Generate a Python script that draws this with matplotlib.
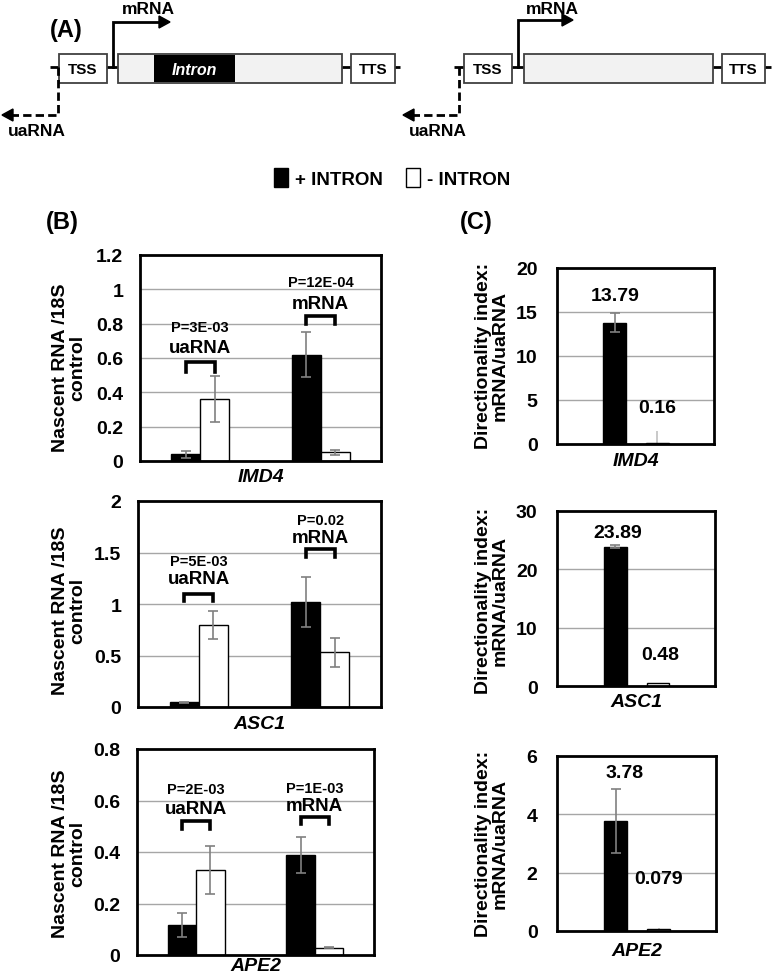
import matplotlib
matplotlib.use('Agg')
import matplotlib.pyplot as plt
from matplotlib.patches import Rectangle, Polygon, Patch
import numpy as np

plt.rcParams['font.family'] = ['Liberation Sans', 'DejaVu Sans']
plt.rcParams['font.weight'] = 'bold'

W, H = 774, 978

# ---------------- data ----------------
genes = ['IMD4', 'ASC1', 'APE2']
rna_types = ['uaRNA', 'mRNA']
legend_labels = ['+ INTRON', '- INTRON']

imd4_plus = [0.04, 0.62]
imd4_plus_err = [0.02, 0.13]
imd4_minus = [0.36, 0.05]
imd4_minus_err = [0.135, 0.015]

asc1_plus = [0.045, 1.02]
asc1_plus_err = [0.005, 0.245]
asc1_minus = [0.80, 0.53]
asc1_minus_err = [0.135, 0.14]

ape2_plus = [0.117, 0.39]
ape2_plus_err = [0.048, 0.07]
ape2_minus = [0.33, 0.029]
ape2_minus_err = [0.095, 0.003]

imd4_pvals = ['P=3E-03', 'P=12E-04']
asc1_pvals = ['P=5E-03', 'P=0.02']
ape2_pvals = ['P=2E-03', 'P=1E-03']

di_plus = [13.79, 23.89, 3.78]
di_plus_err = [1.1, 0.2, 1.1]
di_minus = [0.16, 0.48, 0.079]
di_minus_err = [1.35, 0.1, 0.01]

b_ylim = [1.2, 2.0, 0.8]
b_ystep = [0.2, 0.5, 0.2]
c_ylim = [20, 30, 6]
c_ystep = [5, 10, 2]

# ---------------- figure ----------------
fig = plt.figure(figsize=(W / 100, H / 100), dpi=100)
fig.patch.set_facecolor('white')


def px_axes(l, t, r, b):
    return fig.add_axes([l / W, 1 - b / H, (r - l) / W, (b - t) / H])


FS = 14
ERRC = '#808080'
GRIDC = '#a6a6a6'

# ---------------- panel A diagram ----------------
axA = fig.add_axes([0, 1 - 150 / H, 1, 150 / H])
axA.set_xlim(0, W)
axA.set_ylim(150, 0)
axA.axis('off')

BASE = 68
BOX_T, BOX_B = 55, 84
EDGE = '#404040'


def gene(x0, x1, tss, gbox, tts, intron=None, tick_x=None, arrow_x=None, arrow_end=None,
         ua_end=None, mrna_x=None, ua_x=None):
    axA.plot([x0, x1], [BASE, BASE], color='black', lw=2, zorder=1, solid_capstyle='butt')
    for (a, b), lab in [(tss, 'TSS'), (tts, 'TTS')]:
        axA.add_patch(Rectangle((a, BOX_T), b - a, BOX_B - BOX_T, facecolor='white',
                                edgecolor=EDGE, lw=1.3, zorder=2))
        axA.text((a + b) / 2, (BOX_T + BOX_B) / 2 + 1, lab, ha='center', va='center',
                 fontsize=11, fontweight='bold', zorder=3)
    axA.add_patch(Rectangle((gbox[0], BOX_T), gbox[1] - gbox[0], BOX_B - BOX_T,
                            facecolor='#f2f2f2', edgecolor=EDGE, lw=1.3, zorder=2))
    if intron is not None:
        axA.add_patch(Rectangle((intron[0], BOX_T + 0.7), intron[1] - intron[0],
                                BOX_B - BOX_T - 1.4, facecolor='black', edgecolor='black',
                                lw=0, zorder=3))
        axA.text((intron[0] + intron[1]) / 2, (BOX_T + BOX_B) / 2 + 1, 'Intron',
                 ha='center', va='center', fontsize=11.5, fontweight='bold',
                 style='italic', color='white', zorder=4)
    # mRNA arrow
    ay = arrow_end[1]
    axA.plot([arrow_x, arrow_x, arrow_end[0] - 8], [BASE, ay, ay], color='black', lw=2,
             zorder=3, solid_joinstyle='miter')
    axA.add_patch(Polygon([[arrow_end[0], ay], [arrow_end[0] - 11, ay - 6],
                           [arrow_end[0] - 11, ay + 6]], closed=True,
                          facecolor='black', edgecolor='black', zorder=3))
    axA.text(mrna_x, 9, 'mRNA', ha='center', va='center', fontsize=12.5, fontweight='bold')
    # uaRNA dashed arrow
    uy = ua_end[1]
    axA.plot([tick_x, tick_x, ua_end[0] + 8], [BASE, uy, uy], color='black', lw=2,
             ls=(0, (3, 1.5)), zorder=3)
    axA.add_patch(Polygon([[ua_end[0], uy], [ua_end[0] + 11, uy - 6],
                           [ua_end[0] + 11, uy + 6]], closed=True,
                          facecolor='black', edgecolor='black', zorder=3))
    axA.text(ua_x, 131, 'uaRNA', ha='center', va='center', fontsize=12.5, fontweight='bold')


gene(50, 400, (59, 107), (118, 342), (351, 395), intron=(154, 235), tick_x=57.5,
     arrow_x=113, arrow_end=(170, 23), ua_end=(2, 116), mrna_x=148, ua_x=37)
gene(454, 771, (464, 512), (524, 713), (722, 765), tick_x=459,
     arrow_x=517.5, arrow_end=(573, 21), ua_end=(403, 116), mrna_x=552, ua_x=438)

fig.text(66 / W, 1 - 30 / H, '(A)', ha='center', va='center', fontsize=17, fontweight='bold')
fig.text(62 / W, 1 - 222 / H, '(B)', ha='center', va='center', fontsize=17, fontweight='bold')
fig.text(476 / W, 1 - 222 / H, '(C)', ha='center', va='center', fontsize=17, fontweight='bold')

# ---------------- legend ----------------
handles = [Patch(facecolor='black', edgecolor='black', lw=1),
           Patch(facecolor='white', edgecolor='black', lw=1)]
fig.legend(handles, legend_labels, loc='center', bbox_to_anchor=(392 / W, 1 - 179 / H),
           ncol=2, frameon=False, prop={'weight': 'bold', 'size': 13.5},
           handlelength=0.75, handleheight=1.15, handletextpad=0.4, columnspacing=1.2)

# ---------------- panel B ----------------
b_boxes = [(140, 256, 381, 462), (138, 502, 381, 708), (137, 750, 374, 956)]
b_plus = [imd4_plus, asc1_plus, ape2_plus]
b_plus_err = [imd4_plus_err, asc1_plus_err, ape2_plus_err]
b_minus = [imd4_minus, asc1_minus, ape2_minus]
b_minus_err = [imd4_minus_err, asc1_minus_err, ape2_minus_err]
b_pvals = [imd4_pvals, asc1_pvals, ape2_pvals]
# annotation layout: (pval y, label y, bracket top, bracket tips) per group
b_annot = [
    [(0.78, 0.66, 0.576, 0.52), (1.04, 0.92, 0.846, 0.80)],
    [(1.42, 1.25, 1.10, 1.03), (1.82, 1.645, 1.53, 1.46)],
    [(0.645, 0.57, 0.52, 0.49), (0.648, 0.58, 0.537, 0.51)],
]
b_ylabel_y = [368, 611, 854]
b_xlabel_y = [478, 725, 967]
bw = 0.24
xg = np.array([0.5, 1.5])

for i in range(3):
    l, t, r, b = b_boxes[i]
    ax = px_axes(l, t, r, b)
    ax.set_xlim(0, 2)
    ax.set_ylim(0, b_ylim[i])
    yt = np.arange(0, b_ylim[i] + 1e-9, b_ystep[i])
    ax.set_yticks(yt)
    ax.set_yticklabels([f'{v:g}' for v in yt], fontsize=FS, fontweight='bold')
    ax.set_xticks([])
    ax.tick_params(axis='y', length=0, pad=12)
    for v in yt[1:-1]:
        ax.axhline(v, color=GRIDC, lw=1, zorder=0)
    for s in ax.spines.values():
        s.set_linewidth(2)
    ax.bar(xg - bw / 2, b_plus[i], bw, color='black', edgecolor='black', lw=1, zorder=2)
    ax.bar(xg + bw / 2, b_minus[i], bw, color='white', edgecolor='black', lw=1, zorder=2)
    ax.errorbar(xg - bw / 2, b_plus[i], yerr=b_plus_err[i], fmt='none', ecolor=ERRC,
                elinewidth=1.2, capsize=3.5, capthick=1.2, zorder=3)
    ax.errorbar(xg + bw / 2, b_minus[i], yerr=b_minus_err[i], fmt='none', ecolor=ERRC,
                elinewidth=1.2, capsize=3.5, capthick=1.2, zorder=3)
    for j in range(2):
        py, ly, bt, btip = b_annot[i][j]
        x0, x1 = xg[j] - bw / 2, xg[j] + bw / 2
        ax.plot([x0, x0, x1, x1], [btip, bt, bt, btip], color='black', lw=2.6,
                solid_joinstyle='miter', zorder=4)
        ax.text(xg[j], py, b_pvals[i][j], ha='center', va='center', fontsize=10.5,
                fontweight='bold')
        ax.text(xg[j], ly, rna_types[j], ha='center', va='center', fontsize=13.5,
                fontweight='bold')
    fig.text(69 / W, 1 - b_ylabel_y[i] / H, 'Nascent RNA /18S\ncontrol', rotation=90,
             ha='center', va='center', fontsize=FS, fontweight='bold',
             multialignment='center', linespacing=1.05)
    fig.text(((l + r) / 2) / W, 1 - b_xlabel_y[i] / H, genes[i], ha='center', va='center',
             fontsize=FS, fontweight='bold', style='italic')

# ---------------- panel C ----------------
c_boxes = [(557, 269, 714, 445), (557, 512, 715, 687), (557, 757, 716, 932)]
# label layout: (x_plus, y_plus, x_minus, y_minus)
c_annot = [(0.368, 16.9, 0.641, 4.2), (0.384, 26.3, 0.652, 5.4), (0.423, 5.45, 0.64, 1.79)]
c_ylabel_y = [356, 601, 844]
c_xlabel_y = [462, 703, 952]
cx = np.array([0.368, 0.64])
cw = 0.144

for i in range(3):
    l, t, r, b = c_boxes[i]
    ax = px_axes(l, t, r, b)
    ax.set_xlim(0, 1)
    ax.set_ylim(0, c_ylim[i])
    yt = np.arange(0, c_ylim[i] + 1e-9, c_ystep[i])
    ax.set_yticks(yt)
    ax.set_yticklabels([f'{v:g}' for v in yt], fontsize=FS, fontweight='bold')
    ax.set_xticks([])
    ax.tick_params(axis='y', length=0, pad=14)
    for v in yt[1:-1]:
        ax.axhline(v, color=GRIDC, lw=1, zorder=0)
    for s in ax.spines.values():
        s.set_linewidth(2)
    ax.bar([cx[0]], [di_plus[i]], cw, color='black', edgecolor='black', lw=1, zorder=2)
    ax.bar([cx[1]], [di_minus[i]], cw, color='white', edgecolor='black', lw=1, zorder=2)
    ax.errorbar([cx[0]], [di_plus[i]], yerr=[di_plus_err[i]], fmt='none', ecolor=ERRC,
                elinewidth=1.2, capsize=3.5, capthick=1.2, zorder=3)
    ax.errorbar([cx[1]], [di_minus[i]], yerr=[di_minus_err[i]], fmt='none', ecolor='#c0c0c0',
                elinewidth=1.2, capsize=0, zorder=1)
    xp, yp, xm, ym = c_annot[i]
    ax.text(xp, yp, f'{di_plus[i]:g}', ha='center', va='center', fontsize=FS,
            fontweight='bold')
    ax.text(xm, ym, f'{di_minus[i]:g}', ha='center', va='center', fontsize=FS,
            fontweight='bold')
    fig.text(492 / W, 1 - c_ylabel_y[i] / H, 'Directionality index:\nmRNA/uaRNA',
             rotation=90, ha='center', va='center', fontsize=FS, fontweight='bold',
             multialignment='center', linespacing=1.0)
    fig.text(((l + r) / 2) / W, 1 - c_xlabel_y[i] / H, genes[i], ha='center', va='center',
             fontsize=FS, fontweight='bold', style='italic')

fig.savefig('out.png', dpi=100, facecolor='white')
